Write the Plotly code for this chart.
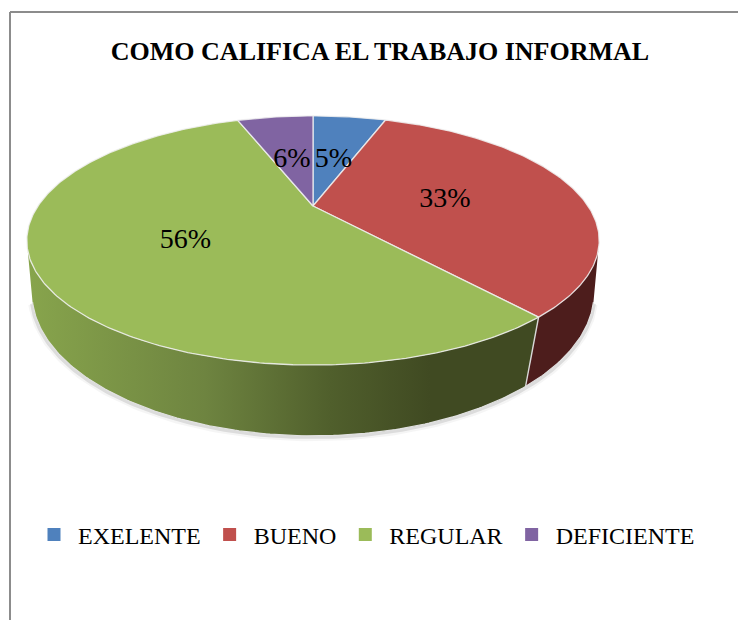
import numpy as np
import plotly.graph_objects as go

TITLE = "COMO CALIFICA EL TRABAJO INFORMAL"
categories = ["EXELENTE", "BUENO", "REGULAR", "DEFICIENTE"]
values = [5.4, 33.4, 55.6, 5.6]
colors = ["#4F81BD", "#C0504D", "#9BBB59", "#8064A2"]

# Projection of the tilted disc into the 738x620 canvas
CX = 313
TOP = dict(y0=206, a=275, b=115, k=0.277)
BOT = dict(y0=262, a=274.4, b=136.3, k=0.216)
LABEL_R = 0.5
LABEL_DY = 4


def project(theta, plane, r=1.0):
    u, v = r * np.sin(theta), r * np.cos(theta)
    d = 1 + plane["k"] * v
    return CX + plane["a"] * u / d, plane["y0"] - plane["b"] * v / d


edges = 2 * np.pi * np.concatenate([[0], np.cumsum(values)]) / sum(values)
sil_right = np.arccos(-TOP["k"])
sil_left = 2 * np.pi - sil_right

fig = go.Figure()


def wall(t0, t1, fillcolor=None, gradient=None):
    t = np.linspace(t0, t1, 120)
    xt, yt = project(t, TOP)
    xb, yb = project(t[::-1], BOT)
    kw = dict(fillgradient=gradient) if gradient else dict(fillcolor=fillcolor)
    fig.add_trace(go.Scatter(
        x=np.r_[xt, xb, xt[0]], y=np.r_[yt, yb, yt[0]], mode="lines", fill="toself",
        line=dict(color="rgba(255,255,255,0)", width=0), hoverinfo="skip", showlegend=False, **kw))


# soft shadow under the lower rim
t_rim = np.linspace(sil_right, sil_left, 200)
xr, yr = project(t_rim, BOT)
for w, off, al in [(6, 2.5, 0.04), (3.5, 1.5, 0.10)]:
    fig.add_trace(go.Scatter(x=xr + off * np.sin(t_rim) * 0.5, y=yr + off, mode="lines",
                             line=dict(color=f"rgba(0,0,0,{al})", width=w),
                             hoverinfo="skip", showlegend=False))

# side walls (only the two front slices show one)
wall(sil_right, edges[2], fillcolor="#4D1D1C")
wall(edges[2], sil_left, gradient=dict(
    type="horizontal", start=30, stop=530,
    colorscale=[[0, "#87A44C"], [0.35, "#6E8440"], [0.6, "#505F2C"], [0.8, "#404A22"], [1, "#404A22"]]))

# lower rim highlight and wall seam
fig.add_trace(go.Scatter(x=xr, y=yr, mode="lines", line=dict(color="#E2E2E2", width=1.2),
                         hoverinfo="skip", showlegend=False))
xa, ya = project(edges[2], TOP)
xb, yb = project(edges[2], BOT)
fig.add_trace(go.Scatter(x=[xa, xb], y=[ya, yb], mode="lines", line=dict(color="#D8D8D8", width=1.4),
                         hoverinfo="skip", showlegend=False))

# top face slices
for i, c in enumerate(colors):
    t = np.linspace(edges[i], edges[i + 1], max(int(values[i] * 5), 12))
    x, y = project(t, TOP)
    fig.add_trace(go.Scatter(x=np.r_[CX, x, CX], y=np.r_[TOP["y0"], y, TOP["y0"]], mode="lines",
                             fill="toself", fillcolor=c,
                             line=dict(color="rgba(240,240,240,0.85)", width=1.3),
                             hoverinfo="skip", showlegend=False))

# percentage labels
mid = (edges[:-1] + edges[1:]) / 2
lx, ly = project(mid, TOP, LABEL_R)
fig.add_trace(go.Scatter(x=lx, y=ly + LABEL_DY, mode="text",
                         text=[f"{v:.0f}%" for v in values],
                         textfont=dict(family="Liberation Serif", size=28, color="#000000"),
                         hoverinfo="skip", showlegend=False))

# legend entries
for name, c in zip(categories, colors):
    fig.add_trace(go.Scatter(x=[None], y=[None], mode="markers", name=name,
                             marker=dict(symbol="square", size=13, color=c)))

fig.update_layout(
    width=738, height=620, margin=dict(l=0, r=0, t=0, b=0),
    paper_bgcolor="white", plot_bgcolor="white",
    xaxis=dict(range=[0, 738], visible=False, fixedrange=True),
    yaxis=dict(range=[620, 0], visible=False, fixedrange=True),
    title=dict(text=f"<b>{TITLE}</b>", x=380 / 738, xanchor="center", y=1 - 51 / 620, yanchor="middle",
               font=dict(family="Liberation Serif", size=26, color="#000000")),
    legend=dict(orientation="h", x=365 / 738, xanchor="center", y=1 - 535 / 620, yanchor="middle",
                font=dict(family="Liberation Serif", size=24, color="#000000"),
                bgcolor="rgba(0,0,0,0)", itemwidth=38, traceorder="normal"),
    shapes=[
        dict(type="line", xref="x", yref="y", x0=10, x1=10, y0=12, y1=620, line=dict(color="#8C8C8C", width=2)),
        dict(type="line", xref="x", yref="y", x0=10, x1=738, y0=12, y1=12, line=dict(color="#8C8C8C", width=2)),
    ],
)

fig.write_html("out.html", config={"displayModeBar": False},
               post_script="document.body.style.margin='0';document.documentElement.style.overflow='hidden';")
